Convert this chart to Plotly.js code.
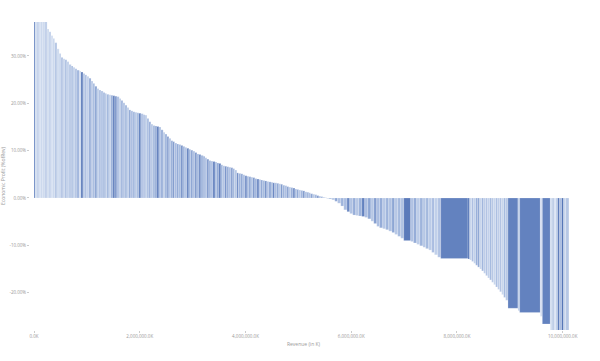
<!DOCTYPE html>
<html>
<head>
<meta charset="utf-8">
<script src="https://cdn.plot.ly/plotly-3.0.1.min.js"></script>
<style>html,body{margin:0;padding:0;background:#fff}#chart{width:600px;height:361px}</style>
</head>
<body>
<div id="chart"></div>
<script>
// Revenue of each business unit (in K), sorted by economic profit
const revenue = [
24600,32100,
37800,37800,33400,42200,39600,36000,37800,37800,31200,44400,
40800,34800,37800,37800,36000,39600,42200,33400,37800,37800,
44400,31200,37800,37800,34800,40800,39600,36000,33400,42200,
37800,37800,40800,34800,31200,44400,37800,37800,36000,39600,
42200,33400,37800,37800,39600,36000,34800,40800,37800,37800,
33400,42200,44400,31200,37800,37800,36000,39600,40800,34800,
37800,37800,42200,33400,39600,36000,37800,37800,31200,44400,
34800,40800,37800,37800,36000,39600,33400,42200,37800,37800,
40800,34800,44400,31200,37800,37800,39600,36000,42200,33400,
37800,37800,36000,39600,34800,40800,37800,37800,33400,42200,
31200,44400,37800,37800,40800,34800,39600,36000,37800,37800,
42200,33400,36000,39600,37800,37800,44400,31200,34800,40800,
37800,37800,33400,42200,39600,36000,37800,37800,40800,34800,
36000,39600,37800,37800,42200,33400,31200,44400,37800,37800,
39600,36000,37800,37800,34800,40800,
56700,56700,52000,61400,56700,60000,53400,56700,56700,52000,
61400,56700,56700,60000,53400,56700,52000,61400,56700,56700,
60000,53400,56700,56700,56700,132300,52000,61400,56700,60000,
53400,56700,56700,52000,61400,56700,
516100,
32100,37800,37800,37800,37800,37800,37800,37800,37800,37800,
37800,37800,37800,37800,37800,37800,37800,37800,37800,43500,
189000,32100,391300,37800,151200,
34000,37800,28400,37800,37800,37800,37800,37800,62400
];

// Economic profit (% of revenue)
const profit = [
60,55,
52,48,45,42,38.5,35.7,35.1,34.3,33.7,32.8,
31.5,30.5,29.7,29.4,29.2,28.8,28.2,27.9,27.6,27.3,
27.0,26.8,26.6,26.3,26.0,25.7,25.3,24.7,24.2,23.6,
23.1,22.8,22.6,22.3,22.1,21.9,21.8,21.7,21.6,21.5,
21.4,21.0,20.6,20.1,19.6,19.1,18.6,18.4,18.2,18.1,
18.0,17.9,17.8,17.6,17.5,16.8,16.1,15.6,15.3,15.2,
15.1,15.0,14.4,13.9,13.5,13.0,12.6,12.1,11.9,11.6,
11.4,11.3,11.1,10.9,10.7,10.5,10.3,10.1,9.9,9.6,
9.3,9.2,9.0,8.8,8.5,8.2,7.9,7.8,7.7,7.6,
7.4,7.3,7.0,6.8,6.7,6.6,6.5,6.4,6.2,5.9,
5.3,5.2,5.1,4.9,4.7,4.6,4.5,4.4,4.3,4.1,
4.0,3.9,3.8,3.7,3.6,3.5,3.4,3.3,3.2,3.2,
3.1,3.0,2.9,2.7,2.6,2.4,2.3,2.2,2.1,1.9,
1.8,1.7,1.6,1.5,1.3,1.2,1.1,0.9,0.8,0.7,
0.5,0.4,0.3,0.15,0.05,-0.1,
-0.2,-0.4,-0.7,-1.1,-1.7,-2.5,-2.9,-3.3,-3.6,-3.7,
-3.8,-3.9,-4.1,-4.4,-4.9,-5.4,-6.0,-6.3,-6.5,-6.7,
-7.0,-7.3,-7.7,-8.1,-8.5,-9.0,-9.2,-9.5,-9.8,-10.1,
-10.4,-10.7,-11.0,-11.5,-12.0,-12.5,
-12.8,
-12.9,-13.1,-13.4,-13.8,-14.2,-14.6,-15.0,-15.4,-15.9,-16.4,
-16.9,-17.3,-17.8,-18.3,-18.8,-19.3,-19.8,-20.4,-21.0,-21.6,
-23.3,-23.8,-24.2,-25.0,-26.6,
-29,-29,-29,-29,-29,-29,-29,-29,-29
];

// Colour intensity of each bar (0 = lightest, 1 = darkest)
const shade = [
0.85,0.1,
0.2,0.05,0.15,0.1,0.25,0.1,0.2,0.05,0.15,0.3,
0.1,0.2,0.35,0.15,0.4,0.2,0.3,0.45,0.2,0.35,
0.5,0.15,0.9,0.3,0.4,0.2,0.55,0.3,0.45,0.6,
0.25,0.4,0.35,0.5,0.3,0.45,0.2,0.55,0.9,0.7,
0.4,0.3,0.5,0.35,0.45,0.25,0.6,0.4,0.5,0.3,
0.45,0.85,0.35,0.5,0.25,0.4,0.55,0.3,0.45,0.6,
0.9,0.4,0.55,0.3,0.5,0.65,0.35,0.55,0.7,0.4,
0.6,0.45,0.75,0.5,0.35,0.85,0.5,0.6,0.4,0.7,
0.45,0.85,0.5,0.6,0.35,0.7,0.5,0.4,0.85,0.45,
0.6,0.9,0.5,0.35,0.75,0.55,0.4,0.65,0.5,0.3,
0.8,0.5,0.6,0.4,0.75,0.45,0.6,0.35,0.7,0.5,
0.8,0.4,0.6,0.45,0.75,0.35,0.6,0.5,0.85,0.4,
0.6,0.3,0.7,0.5,0.4,0.65,0.3,0.55,0.75,0.4,
0.6,0.3,0.5,0.7,0.35,0.55,0.4,0.6,0.3,0.5,
0.7,0.35,0.5,0.4,0.6,0.3,
0.45,0.3,0.6,0.35,0.5,0.4,0.8,0.35,0.55,0.3,
0.5,0.85,0.4,0.6,0.3,0.65,0.4,0.55,0.3,0.5,
0.35,0.6,0.3,0.45,0.35,0.9,0.35,0.55,0.25,0.5,
0.3,0.45,0.25,0.4,0.2,0.35,
0.85,
0.95,0.15,0.4,0.2,0.55,0.6,0.15,0.5,0.25,0.35,
0.2,0.45,0.3,0.15,0.4,0.25,0.35,0.15,0.45,0.3,
0.85,0.2,0.85,0.05,0.85,
0.1,0.3,0.05,0.2,0.9,0.4,0.95,0.15,0.3
];

const yTickVals = [-20,-10,0,10,20,30];
const yTickText = ['-20.00%','-10.00%','0.00%','10.00%','20.00%','30.00%'];
const xTickVals = [0,2000000,4000000,6000000,8000000,10000000];
const xTickText = ['0.0K','2,000,000.0K','4,000,000.0K','6,000,000.0K','8,000,000.0K','10,000,000.0K'];

// cumulative positions
const xs = [];
let acc = 0;
for (let i = 0; i < revenue.length; i++) { xs.push(acc + revenue[i] / 2); acc += revenue[i]; }

const trace = {
  type: 'bar',
  x: xs,
  y: profit,
  width: revenue,
  marker: {
    color: shade,
    cmin: 0, cmax: 1,
    colorscale: [[0,'#d9e3f3'],[0.5,'#9eb4dc'],[1,'#4a6cb2']],
    line: {color: '#ffffff', width: 0.2}
  },
  hoverinfo: 'none'
};

const axisFont = {family: 'Open Sans, Arial, sans-serif', size: 4.5, color: '#999'};
const layout = {
  width: 600, height: 361,
  margin: {l: 30, r: 23, t: 22, b: 31},
  paper_bgcolor: '#fff', plot_bgcolor: '#fff',
  showlegend: false,
  xaxis: {
    range: [-75660, 10270000],
    showgrid: false, zeroline: false, showline: false,
    tickvals: xTickVals, ticktext: xTickText,
    ticks: 'outside', ticklen: 2, tickwidth: 0.6, tickcolor: '#aaa',
    tickfont: axisFont,
    title: {text: 'Revenue (in K)', font: {family: 'Open Sans, Arial, sans-serif', size: 5, color: '#999'}, standoff: 4}
  },
  yaxis: {
    range: [-27.88, 37.17],
    showgrid: false, zeroline: false, showline: false,
    tickvals: yTickVals, ticktext: yTickText,
    ticks: 'outside', ticklen: 2, tickwidth: 0.6, tickcolor: '#aaa',
    tickfont: axisFont,
    title: {text: 'Economic Profit (%ofRev)', font: {family: 'Open Sans, Arial, sans-serif', size: 5, color: '#999'}, standoff: 6}
  }
};

Plotly.newPlot('chart', [trace], layout, {displayModeBar: false, staticPlot: true});
</script>
</body>
</html>
